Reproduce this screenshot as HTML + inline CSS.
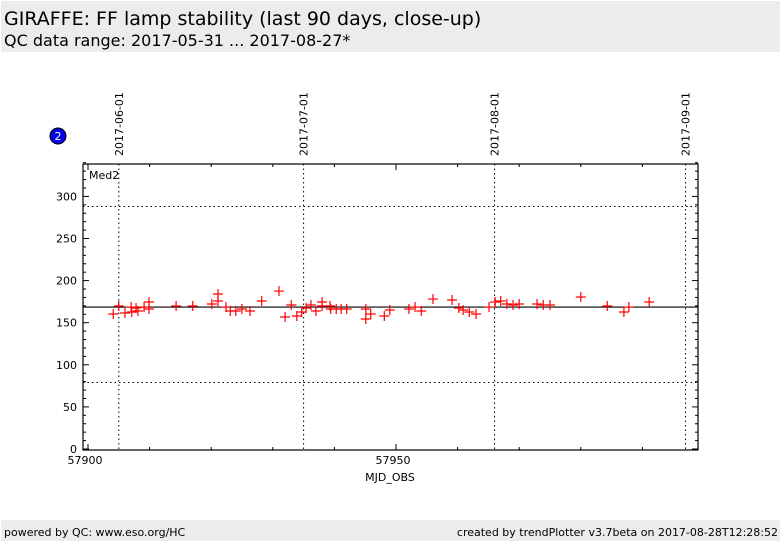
<!DOCTYPE html>
<html><head><meta charset="utf-8"><style>
body{margin:0;width:782px;height:542px;background:#fff;font-family:"DejaVu Sans","Liberation Sans",sans-serif;overflow:hidden}
</style></head><body>
<svg width="782" height="542" xmlns="http://www.w3.org/2000/svg" font-family="DejaVu Sans, Liberation Sans, sans-serif">
<rect x="1" y="1" width="779" height="51" fill="#ececec"/>
<text x="4" y="25" font-size="19" fill="#000">GIRAFFE: FF lamp stability (last 90 days, close-up)</text>
<text x="4" y="46" font-size="16" fill="#000">QC data range: 2017-05-31 ... 2017-08-27*</text>
<rect x="1" y="520" width="779" height="21" fill="#ececec"/>
<text x="4" y="536" font-size="11">powered by QC: www.eso.org/HC</text>
<text x="778" y="536" font-size="11" text-anchor="end">created by trendPlotter v3.7beta on 2017-08-28T12:28:52</text>
<circle cx="58" cy="136" r="8" fill="#0000ee" stroke="#000" stroke-width="1"/>
<text x="58" y="140" font-size="11" fill="#fff" text-anchor="middle">2</text>
<g id="plot"></g>
<text x="390" y="481" font-size="11" text-anchor="middle">MJD_OBS</text>
</svg>
<script>
const mjd=[57904.1,57905.0,57906.0,57907.0,57907.1,57907.8,57908.1,57909.1,57909.9,57909.9,57914.3,57917.0,57920.1,57921.1,57921.1,57922.4,57923.1,57924.0,57925.0,57926.3,57928.2,57931.0,57932.0,57933.0,57933.9,57934.7,57935.4,57936.2,57937.0,57938.0,57938.0,57939.3,57939.4,57940.3,57941.1,57942.0,57945.1,57945.1,57945.9,57948.1,57949.0,57952.1,57953.1,57954.1,57956.0,57959.1,57960.2,57960.9,57961.9,57963.0,57965.1,57966.1,57967.0,57968.0,57969.0,57970.0,57972.9,57973.9,57975.0,57980.0,57984.3,57987.0,57987.8,57991.1];
const vals=[160.3,169.8,161.5,168.6,162.7,167.5,163.9,168.6,174.6,166.3,169.8,169.8,172.2,175.8,184.1,168.6,163.9,163.9,166.3,163.9,175.8,187.6,156.8,171.0,158.0,162.7,167.5,171.0,163.9,174.6,169.8,169.8,166.3,166.3,166.3,166.3,166.3,154.4,160.3,158.0,165.1,166.3,168.6,163.9,178.1,177.0,167.5,165.1,162.7,160.3,168.6,174.6,175.8,172.2,171.0,172.2,172.2,171.0,171.0,180.5,169.8,162.7,168.6,174.6];
const yTicks=[0,50,100,150,200,250,300];
const xTickLabels=[57900,57950];
const dateLines=[57905,57935,57966,57997];
const dateLabels=["2017-06-01","2017-07-01","2017-08-01","2017-09-01"];
const meanVal=168.6, upper=288, lower=79;
const L=83,R=698,T=164,B=450;
const x=v=>88+(v-57900)*6.16;
const y=v=>449-v*0.842;
const g=document.getElementById('plot');
const NS="http://www.w3.org/2000/svg";
function mk(t,a){const e=document.createElementNS(NS,t);for(const k in a)e.setAttribute(k,a[k]);g.appendChild(e);return e;}
[upper,lower].forEach((v,i)=>{const e=mk('line',{x1:L,x2:R,y1:y(v),y2:y(v),stroke:'#000','stroke-dasharray':'1.5,3'});

});
dateLines.forEach((d,i)=>{const e=mk('line',{x1:x(d),x2:x(d),y1:T,y2:B,stroke:'#000','stroke-dasharray':'1.5,3'});


const t=mk('text',{x:0,y:0,'font-size':11,transform:`translate(${x(d)+4},${156}) rotate(-90)`});
t.textContent=dateLabels[i];

});
const m=mk('line',{x1:L,x2:R,y1:y(meanVal),y2:y(meanVal),stroke:'#000','stroke-width':1.2});


for(let v=0;v<=340;v+=10){const len=v%50===0?6:3;mk('line',{x1:L,x2:L+len,y1:y(v),y2:y(v),stroke:'#000'});mk('line',{x1:R,x2:R-len,y1:y(v),y2:y(v),stroke:'#000'});}
for(let d=57900;d<=57999;d+=10){const len=d%50===0?6:3;mk('line',{x1:x(d),x2:x(d),y1:B,y2:B-len,stroke:'#000'});mk('line',{x1:x(d),x2:x(d),y1:T,y2:T+len,stroke:'#000'});}
yTicks.forEach(v=>{const t=mk('text',{x:L-6,y:y(v)+4,'font-size':11,'text-anchor':'end'});t.textContent=v;

});
xTickLabels.forEach(v=>{const t=mk('text',{x:x(v)-3,y:464,'font-size':11,'text-anchor':'middle'});t.textContent=v;

});
const f=mk('rect',{x:L,y:T,width:R-L,height:B-T,fill:'none',stroke:'#000','stroke-width':1.2});


const lab=mk('text',{x:89,y:179,'font-size':11});lab.textContent='Med2';


mjd.forEach((d,i)=>{const cx=x(d),cy=y(vals[i]);
const p=mk('path',{d:`M${cx-5},${cy}H${cx+5}M${cx},${cy-5}V${cy+5}`,stroke:'#f00','stroke-width':1.2,fill:'none'});

});
</script>
</body></html>
